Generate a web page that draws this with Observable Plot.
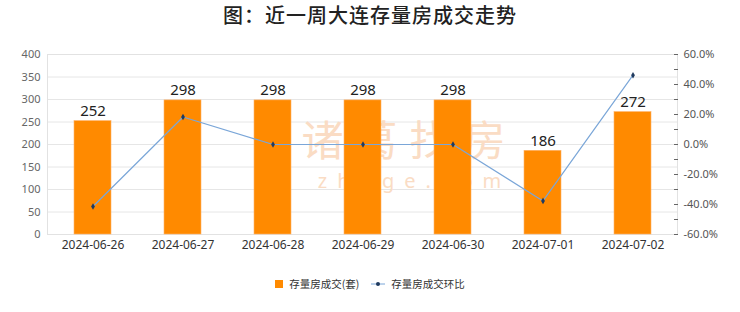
<!DOCTYPE html>
<html>
<head>
<meta charset="utf-8">
<script src="https://cdn.jsdelivr.net/npm/d3@7"></script>
<script src="https://cdn.jsdelivr.net/npm/@observablehq/plot@0.6"></script>
<style>
  html, body { margin: 0; padding: 0; background: #fff; }
  body { width: 740px; height: 312px; position: relative; overflow: hidden; font-family: "Noto Sans CJK SC", "Noto Sans", sans-serif; }
  #title { position: absolute; left: 0; top: 2px; width: 740px; text-align: center; font-size: 20px; letter-spacing: 1px; color: #222; font-weight: 500; line-height: 26px; }
  #chart { position: absolute; left: 0; top: 30px; }
  #legend { position: absolute; top: 276px; left: 0; width: 740px; display: flex; justify-content: center; font-size: 10.5px; color: #333; gap: 12px; align-items: center; }
  .item { display: flex; align-items: center; gap: 6px; }
  .sw { width: 8px; height: 8px; background: #ff8a00; }
</style>
</head>
<body>
<div id="title">图：近一周大连存量房成交走势</div>
<div id="chart"></div>
<div id="legend">
  <div class="item"><div class="sw"></div><span>存量房成交(套)</span></div>
  <div class="item"><svg width="14" height="8"><line x1="0" y1="4" x2="14" y2="4" stroke="#7aa6d8" stroke-width="1"/><circle cx="7" cy="4" r="2" fill="#1f3a5f"/></svg><span>存量房成交环比</span></div>
</div>
<script>
const dates = ["2024-06-26","2024-06-27","2024-06-28","2024-06-29","2024-06-30","2024-07-01","2024-07-02"];
const deals = [252, 298, 298, 298, 298, 186, 272];
const momPct = [-41.3, 18.3, 0, 0, 0, -37.6, 46.2];
const leftTicks = [0, 50, 100, 150, 200, 250, 300, 350, 400];
const rightTicks = [-60, -40, -20, 0, 20, 40, 60];
const rightMinor = [-60, -50, -40, -30, -20, -10, 0, 10, 20, 30, 40, 50, 60];

const pctToY = p => (p + 60) / 120 * 400;
const yToPct = y => Math.round((y / 400 * 120 - 60) * 10) / 10;

const data = dates.map((d, i) => ({date: d, deals: deals[i], pct: momPct[i], py: pctToY(momPct[i])}));

const chart = Plot.plot({
  width: 740,
  height: 240,
  marginTop: 24,
  marginBottom: 36,
  marginLeft: 47,
  marginRight: 63,
  style: {background: "transparent", fontFamily: "'Noto Sans', sans-serif"},
  x: {domain: dates, paddingInner: 0.59, paddingOuter: 0.295},
  y: {domain: [0, 400]},
  marks: [
    Plot.ruleY(leftTicks, {stroke: "#e6e6e6", strokeWidth: 1}),
    Plot.frame({stroke: "#e2e2e2"}),
    Plot.text(["诸葛找房"], {frameAnchor: "middle", dx: 47, dy: -2, text: d => d, fontSize: 42, fill: "#fadcc4", fontFamily: "Noto Sans CJK SC"}),
    Plot.text(["zhuge.com"], {frameAnchor: "middle", dx: 52, dy: 37, text: d => d, fontSize: 20, fill: "#fadcc4", fontFamily: "Noto Sans"}),
    Plot.barY(data, {x: "date", y: "deals", fill: "#ff8a00", stroke: "#ffb36a", strokeWidth: 0.6}),
    Plot.text(data, {x: "date", y: "deals", text: d => String(d.deals), dy: -10, fontSize: 15, fill: "#222", fontFamily: "Noto Sans"}),
    Plot.line(data, {x: "date", y: "py", stroke: "#7aa6d8", strokeWidth: 1.2}),
    Plot.dot(data, {x: "date", y: "py", r: 2, fill: "#1f3a5f", symbol: "diamond"}),
    Plot.axisY({ticks: leftTicks, tickSize: 0, tickPadding: 7, fontSize: 11, color: "#666", label: null}),
    Plot.axisY({anchor: "right", ticks: rightMinor.map(pctToY), tickSize: 4, dx: -4, tickFormat: () => "", color: "#666", label: null}),
    Plot.axisY({anchor: "right", ticks: rightTicks.map(pctToY), tickSize: 0, tickPadding: 6, tickFormat: y => yToPct(y).toFixed(1) + "%", fontSize: 11, color: "#555", label: null, textAnchor: "start"}),
    Plot.axisX({tickSize: 0, tickPadding: 6, fontSize: 12, color: "#333", label: null})
  ]
});
d3.select(chart).selectAll("text").filter(function() { return this.textContent === "诸葛找房"; }).style("letter-spacing", "12px");
d3.select(chart).selectAll("text").filter(function() { return this.textContent === "zhuge.com"; }).style("letter-spacing", "10px");
document.getElementById("chart").appendChild(chart);
</script>
</body>
</html>
